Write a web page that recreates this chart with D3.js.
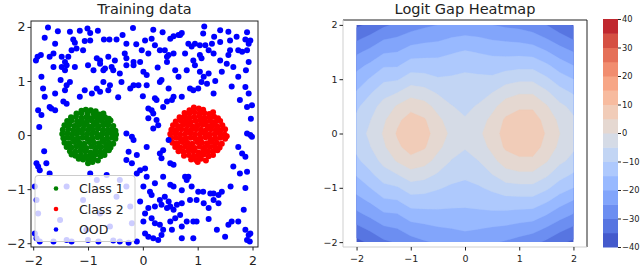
<!DOCTYPE html>
<html>
<head>
<script src="https://cdnjs.cloudflare.com/ajax/libs/d3/7.8.5/d3.min.js"></script>
<title>Training data / Logit Gap Heatmap</title>
<style>
    html, body { margin: 0; background: white; }
    .svg_canvas { display: block; font-family: "DejaVu Sans", sans-serif; }
</style>
</head>
<body>
<svg width="640" height="268" class="svg_canvas"></svg>
<script>

// ---- left panel data: training points ----
var class1 = [
    [-1.04,0.47],[-0.95,0.46],[-0.86,0.44],[-1.12,0.45],
    [-1.21,0.4],[-1.12,0.41],[-1.01,0.39],[-0.9,0.4],[-0.79,0.38],[-0.72,0.4],
    [-1.31,0.33],[-1.22,0.34],[-1.12,0.32],[-1.03,0.33],[-0.95,0.31],[-0.86,0.34],[-0.77,0.32],[-0.69,0.33],[-0.62,0.3],
    [-1.38,0.26],[-1.3,0.27],[-1.2,0.25],[-1.11,0.26],[-1.02,0.24],[-0.93,0.27],[-0.84,0.25],[-0.75,0.26],[-0.66,0.24],[-0.59,0.27],
    [-1.43,0.18],[-1.34,0.19],[-1.25,0.17],[-1.16,0.19],[-1.07,0.18],[-0.98,0.16],[-0.9,0.19],[-0.81,0.17],[-0.72,0.18],[-0.63,0.19],[-0.54,0.17],
    [-1.46,0.1],[-1.36,0.11],[-1.27,0.09],[-1.18,0.1],[-1.09,0.11],[-1.0,0.09],[-0.91,0.1],[-0.82,0.12],[-0.73,0.09],[-0.64,0.1],[-0.56,0.11],[-0.5,0.08],
    [-1.47,0.02],[-1.38,0.03],[-1.29,0.01],[-1.2,0.02],[-1.11,0.04],[-1.02,0.01],[-0.93,0.02],[-0.84,0.03],[-0.75,0.01],[-0.66,0.02],[-0.57,0.03],[-0.49,0.01],
    [-1.45,-0.06],[-1.37,-0.05],[-1.28,-0.07],[-1.19,-0.06],[-1.1,-0.05],[-1.01,-0.07],[-0.92,-0.06],[-0.83,-0.04],[-0.74,-0.07],[-0.65,-0.06],[-0.56,-0.05],[-0.5,-0.07],
    [-1.43,-0.14],[-1.34,-0.15],[-1.25,-0.13],[-1.16,-0.14],[-1.07,-0.16],[-0.98,-0.13],[-0.89,-0.14],[-0.8,-0.15],[-0.71,-0.13],[-0.62,-0.14],[-0.54,-0.16],
    [-1.39,-0.22],[-1.3,-0.23],[-1.21,-0.21],[-1.12,-0.22],[-1.03,-0.24],[-0.94,-0.21],[-0.85,-0.23],[-0.76,-0.22],[-0.67,-0.21],[-0.59,-0.23],
    [-1.33,-0.3],[-1.23,-0.31],[-1.14,-0.29],[-1.05,-0.3],[-0.96,-0.32],[-0.87,-0.29],[-0.78,-0.31],[-0.69,-0.3],[-0.62,-0.28],
    [-1.23,-0.38],[-1.13,-0.37],[-1.04,-0.39],[-0.95,-0.38],[-0.86,-0.36],[-0.77,-0.39],[-0.7,-0.37],[-1.3,-0.36],
    [-1.09,-0.45],[-0.99,-0.46],[-0.9,-0.44],[-0.82,-0.47],[-1.0,-0.52],[-0.92,-0.5],[-1.17,-0.44]
];

var class2 = [
    [0.93,0.51],[1.02,0.49],[1.1,0.47],[0.85,0.46],
    [0.76,0.41],[0.85,0.4],[0.94,0.42],[1.03,0.4],[1.12,0.41],[1.21,0.39],[1.28,0.42],
    [0.67,0.33],[0.76,0.34],[0.85,0.32],[0.94,0.33],[1.03,0.35],[1.12,0.32],[1.21,0.33],[1.3,0.34],[1.37,0.31],
    [0.6,0.25],[0.69,0.27],[0.78,0.26],[0.87,0.24],[0.96,0.26],[1.05,0.27],[1.14,0.25],[1.23,0.26],[1.32,0.24],[1.41,0.26],
    [0.55,0.18],[0.64,0.17],[0.73,0.19],[0.82,0.18],[0.91,0.16],[1.0,0.18],[1.09,0.19],[1.18,0.17],[1.27,0.18],[1.36,0.16],[1.45,0.18],
    [0.52,0.1],[0.61,0.09],[0.7,0.11],[0.79,0.1],[0.88,0.09],[0.97,0.11],[1.06,0.1],[1.15,0.09],[1.24,0.11],[1.33,0.1],[1.42,0.09],[1.5,0.11],
    [0.5,0.02],[0.59,0.03],[0.68,0.01],[0.77,0.02],[0.86,0.04],[0.95,0.01],[1.04,0.02],[1.13,0.03],[1.22,0.01],[1.31,0.02],[1.4,0.03],[1.49,0.01],[1.53,-0.02],
    [0.51,-0.06],[0.6,-0.05],[0.69,-0.07],[0.78,-0.06],[0.87,-0.05],[0.96,-0.07],[1.05,-0.06],[1.14,-0.04],[1.23,-0.07],[1.32,-0.06],[1.41,-0.05],[1.5,-0.07],
    [0.54,-0.14],[0.63,-0.15],[0.72,-0.13],[0.81,-0.14],[0.9,-0.16],[0.99,-0.13],[1.08,-0.14],[1.17,-0.15],[1.26,-0.13],[1.35,-0.14],[1.44,-0.16],
    [0.59,-0.22],[0.68,-0.23],[0.77,-0.21],[0.86,-0.22],[0.95,-0.24],[1.04,-0.21],[1.13,-0.23],[1.22,-0.22],[1.31,-0.21],[1.4,-0.23],
    [0.65,-0.3],[0.74,-0.31],[0.83,-0.29],[0.92,-0.3],[1.01,-0.32],[1.1,-0.29],[1.19,-0.31],[1.28,-0.3],[1.36,-0.28],
    [0.75,-0.38],[0.84,-0.37],[0.93,-0.39],[1.02,-0.38],[1.11,-0.36],[1.2,-0.39],[1.28,-0.37],
    [0.88,-0.45],[0.97,-0.46],[1.06,-0.44],[1.15,-0.47],[1.0,-0.5]
];

var ood = [
    [-1.73,1.99],[-1.33,1.91],[-1.15,1.93],[-1.01,1.97],[-0.82,1.93],[-0.96,1.89],[0.19,1.95],[0.71,1.89],[0.65,1.85],
    [1.1,1.88],[1.12,2.01],[1.41,1.94],[1.56,1.91],[1.9,1.9],
    [-1.79,1.8],[-1.6,1.69],[-1.27,1.77],[-1.24,1.71],[-1.06,1.74],[-0.96,1.75],[-0.71,1.77],[-0.61,1.77],[-0.48,1.77],
    [-0.37,1.85],[-0.3,1.69],[0.04,1.75],[0.16,1.78],[0.22,1.66],[0.5,1.78],[0.56,1.83],[0.68,1.85],[0.83,1.69],
    [0.89,1.64],[0.95,1.69],[1.04,1.66],[1.14,1.66],[1.26,1.69],[1.41,1.72],[1.59,1.75],[1.71,1.82],[1.87,1.77],[1.93,1.69],[1.96,1.75],
    [-1.95,1.38],[-1.92,1.45],[-1.86,1.48],[-1.7,1.45],[-1.63,1.51],[-1.48,1.45],[-1.42,1.35],[-1.36,1.45],[-1.21,1.6],
    [-1.09,1.57],[-1.3,1.57],[-0.84,1.42],[-0.78,1.38],[-0.63,1.45],[-0.51,1.38],[-0.33,1.51],[-0.3,1.42],[-0.17,1.35],
    [-0.02,1.57],[0.1,1.51],[0.31,1.57],[0.4,1.57],[0.44,1.45],[0.47,1.48],[0.56,1.51],[0.77,1.51],[0.92,1.38],
    [1.04,1.48],[1.07,1.42],[1.2,1.57],[1.29,1.51],[1.41,1.38],[1.56,1.48],[1.59,1.57],[1.74,1.57],[1.81,1.54],[1.9,1.57],[1.93,1.35],
    [-1.85,1.08],[-1.63,1.26],[-1.48,1.26],[-1.42,1.2],[-1.39,1.29],[-1.24,1.26],[-1.0,1.29],[-0.9,1.2],[-0.78,1.32],
    [-0.72,1.2],[-0.69,1.23],[-0.57,1.26],[-0.54,1.2],[-0.42,1.14],[-0.3,1.29],[-0.17,1.29],[0.01,1.17],[0.07,1.11],
    [0.34,1.02],[0.44,1.35],[0.59,1.2],[0.65,1.08],[0.8,1.2],[0.95,1.29],[1.04,1.17],[1.11,1.08],[1.2,1.14],[1.44,1.17],
    [1.53,1.32],[1.65,1.26],[1.74,1.08],
    [-1.82,0.86],[-1.79,0.71],[-1.6,0.77],[-1.42,0.83],[-1.39,0.92],[-1.33,0.98],[-1.15,0.71],[-1.06,0.83],[-0.93,0.77],
    [-0.84,0.86],[-0.78,0.8],[-0.72,0.98],[-0.63,0.83],[-0.6,0.92],[-0.39,0.98],[-0.23,0.86],[-0.17,0.92],[-0.08,0.92],
    [0.07,0.92],[0.22,0.68],[0.31,0.98],[0.47,0.86],[0.56,0.71],[0.71,0.71],[0.86,0.86],[0.92,0.83],[1.01,0.86],
    [1.07,0.98],[1.17,0.95],[1.29,0.77],[1.87,0.89],[1.93,0.77],
    [-1.91,0.46],[-1.85,0.37],[-1.7,0.52],[-1.67,0.49],[-1.6,0.46],[-1.45,0.62],[-1.39,0.58],[0.1,0.49],[0.16,0.46],
    [0.19,0.4],[0.25,0.65],[0.37,0.52],[0.44,0.62],[0.53,0.65],[1.77,0.65],[1.9,0.52],[1.99,0.55],
    [-1.89,0.15],[-0.3,0.03],[-0.2,-0.03],[-0.26,-0.31],[-0.17,-0.09],[-0.11,-0.37],[0.1,0.31],[0.19,0.12],[0.25,0.28],
    [0.28,0.18],[0.37,-0.28],[0.47,-0.09],[0.5,-0.52],[1.74,-0.22],[1.81,-0.34],[1.9,0.03],[1.96,0.0],[1.99,-0.03],
    [1.87,-0.4],[0.07,-0.22],
    [-1.94,-0.52],[-1.91,-0.58],[-1.88,-0.65],[-1.76,-0.52],[-1.7,-0.71],[-0.3,-0.46],[-0.2,-0.52],[-0.11,-0.71],
    [-0.05,-0.65],[0.04,-0.62],[0.07,-0.77],[0.31,-0.34],[0.34,-0.43],[0.37,-0.77],[0.56,-0.55],[0.77,-0.77],
    [0.83,-0.77],[1.65,-0.58],[1.77,-0.71],[1.9,-0.68],
    [-0.96,-0.71],[-0.84,-0.83],[-0.66,-0.74],[0.01,-0.95],[0.13,-1.05],[0.16,-1.11],[0.22,-0.89],[0.31,-1.2],
    [0.4,-1.14],[0.5,-0.92],[0.56,-0.95],[0.71,-1.02],[0.8,-0.83],[0.89,-0.95],[1.01,-1.05],[1.1,-1.05],[1.23,-1.08],
    [1.29,-1.08],[1.38,-1.11],[1.44,-1.05],[1.87,-0.98],
    [-0.05,-1.23],[0.04,-1.45],[0.1,-1.35],[0.22,-1.32],[0.34,-1.29],[0.44,-1.35],[0.47,-1.23],[0.5,-1.32],[0.56,-1.38],
    [0.62,-1.29],[0.71,-1.26],[0.86,-1.2],[0.98,-1.2],[1.11,-1.26],[1.2,-1.35],[1.29,-1.2],[1.38,-1.26],[1.84,-1.38],
    [0.01,-1.6],[0.16,-1.54],[0.22,-1.63],[0.31,-1.66],[0.37,-1.75],[0.5,-1.6],[0.59,-1.54],[0.71,-1.69],[0.8,-1.6],
    [0.92,-1.6],[0.98,-1.6],[1.35,-1.75],[1.56,-1.66],[1.62,-1.6],[1.74,-1.6],[1.87,-1.75],[1.96,-1.82],
    [-0.11,-1.97],[0.04,-1.82],[0.1,-1.88],[0.19,-1.91],[0.28,-1.94],[0.34,-1.85],[0.53,-1.75],[0.71,-1.91],
    [0.92,-1.91],[1.9,-1.94],[1.93,-1.85],[1.95,-1.97],
    [-1.97,-1.82],[-1.94,-1.91],[-1.88,-1.97],[-1.63,-1.97],[-1.39,-1.94],[-1.3,-1.97],[-1.0,-1.94],[-0.81,-1.97],
    [-0.54,-1.95],[-0.42,-1.97],[-0.26,-1.99],[-1.97,-0.95],[-1.94,-1.2],[-1.91,-1.45],[-1.39,-0.95],[-1.09,-1.2],
    [-0.78,-1.45],[-0.48,-1.14],[-0.6,-1.69],[-1.51,-1.57],[-1.03,-1.75],[-0.3,-0.95],[-0.23,-1.32],[-0.2,-1.63],[-0.42,-0.83],
    [-1.55,1.92],[-0.18,1.98],[0.36,1.9],[-0.12,1.68],[1.3,1.82],[-1.5,1.02],[-0.05,1.35],[0.27,1.25],[1.32,1.0],
    [1.62,0.9],[-0.45,0.7],[0.0,0.72],[1.88,1.2],[1.97,0.3],[1.6,-0.95],[1.2,-1.55],[0.68,-1.48],[1.5,-1.88],[-1.8,-0.3]
];

var legendLabels = ["Class 1", "Class 2", "OOD"];
var legendColors = ["green", "red", "blue"];
var scatterTicks = [-2, -1, 0, 1, 2];

// ---- right panel data: logit gap on a grid (rows from y=2 down to y=-2) ----
var gridX = [-2, -1.75, -1.5, -1.25, -1, -0.75, -0.5, -0.25, 0, 0.25, 0.5, 0.75, 1, 1.25, 1.5, 1.75, 2];
var gridY = [2, 1.75, 1.5, 1.25, 1, 0.75, 0.5, 0.25, 0, -0.25, -0.5, -0.75, -1, -1.25, -1.5, -1.75, -2];
var gapRows = [
    [-36, -34, -31, -29, -27.5, -26, -25, -24, -23.5, -24, -25, -26, -26.5, -28, -30, -33, -35.5],
    [-31, -28.5, -25.5, -24.5, -22.5, -21.5, -21, -19.7, -19, -19.5, -20.5, -21, -21.5, -22.5, -25, -28, -30.5],
    [-26, -23.5, -20.5, -20, -17.5, -17, -16.5, -15.5, -14.5, -15.3, -16, -16.5, -16.5, -17, -19.5, -22.5, -25],
    [-21.5, -19, -15.5, -15.5, -12.5, -12.5, -13, -12, -11, -11.8, -12.5, -12, -11.5, -11.5, -14, -17.5, -20],
    [-18, -14.5, -11, -10.5, -7.5, -8, -9.5, -9.3, -9, -9, -9, -7, -6, -6, -9, -12.5, -15],
    [-14.5, -10.5, -6.5, -5, -2, -3, -5.5, -7, -7.6, -6.8, -5, -2, -0.5, -0.5, -4, -8, -10.5],
    [-11, -7, -3.2, 0.5, 3.5, 2, -1.8, -4.8, -6.2, -4.5, -1.5, 2.5, 4.2, 4.2, 0.5, -3.8, -6.5],
    [-8.8, -5.2, -0.8, 4, 7, 5.5, 1.2, -2.5, -4.6, -2.4, 1.3, 5.8, 7.3, 7.3, 3.3, -1.2, -4.2],
    [-7.5, -4, 0.5, 5.5, 8.5, 7, 2.5, -1, -3, -1, 2.5, 7, 8.5, 8.5, 4.5, 0, -3],
    [-8.8, -5.2, -0.8, 4, 7, 5.5, 1.2, -2.6, -4.6, -2.5, 1.3, 5.8, 7.3, 7.3, 3.3, -1.2, -4.2],
    [-11, -7.5, -3.5, 0.5, 3.5, 2, -1.8, -5.2, -6.8, -5, -1.5, 2.5, 4, 4, 0.5, -3.8, -6.5],
    [-14.5, -11, -7, -5, -2, -3, -5.5, -8, -9, -7.8, -5, -2, -1, -1, -4, -8, -10.5],
    [-18, -15, -11.5, -10.5, -7.5, -8, -9.5, -10.8, -11.4, -10.5, -9, -7, -6.5, -6.5, -9, -12.5, -15],
    [-22, -19.5, -16, -15.5, -12.5, -12.5, -13, -13.5, -13.8, -13.2, -12.5, -12, -12, -12, -14.5, -18, -20.5],
    [-26.5, -24, -21, -20.5, -17.5, -17, -16.5, -16.5, -16.4, -16.3, -16.2, -16.5, -17, -17.5, -20, -23, -25.5],
    [-31.5, -29, -26, -25, -22.5, -21.5, -20.5, -20, -19.4, -19.8, -20.5, -21, -22, -23, -25.5, -28.5, -31],
    [-36.5, -34, -31, -29.5, -27, -25.5, -24.5, -23.5, -22.5, -23.5, -24.5, -25.5, -27, -28.5, -31, -34, -36]
];
var gapLevels = [-40, -35, -30, -25, -20, -15, -10, -5, 0, 5, 10, 15, 20, 25, 30, 35, 40];
var colorbarTicks = [-40, -30, -20, -10, 0, 10, 20, 30, 40];

// matplotlib "coolwarm" control colours
var coolwarm = [
    "#3b4cc0","#445acc","#4d68d7","#5775e1","#6282ea","#6c8ef1","#779af7","#82a5fb",
    "#8db0fe","#98b9ff","#a3c2ff","#aec9fd","#b8d0f9","#c2d5f4","#ccd9ee","#d5dbe6",
    "#dddddd","#e5d8d1","#ecd3c5","#f1ccb8","#f5c4ac","#f7bb9f","#f7b193","#f7a686",
    "#f49a7b","#f18d6f","#ec7f63","#e57058","#de604d","#d55043","#cb3e38","#c0282f","#b40426"
];

var svg = d3.select(".svg_canvas");

function fmt(v) { return v < 0 ? "\u2212" + Math.abs(v) : String(v); }

var cmap = d3.scaleLinear()
    .domain(coolwarm.map(function(c, i) { return i / (coolwarm.length - 1); }))
    .range(coolwarm)
    .interpolate(d3.interpolateRgb);
var norm = d3.scaleLinear().domain([gapLevels[0], gapLevels[gapLevels.length - 1]]).range([0, 1]);
function bandColor(lo, hi) { return cmap(norm((lo + hi) / 2)); }

// ================= left: training data =================
var x1 = d3.scaleLinear().domain([-2.04, 2.1]).range([31, 258]);
var y1 = d3.scaleLinear().domain([-2.07, 2.11]).range([247, 21]);

svg.append("clipPath").attr("id", "clipL")
    .append("rect")
    .attr("x", x1.range()[0]).attr("y", y1.range()[1])
    .attr("width", x1.range()[1] - x1.range()[0])
    .attr("height", y1.range()[0] - y1.range()[1]);

var left = svg.append("g");
var dots = left.append("g").attr("clip-path", "url(#clipL)");

[class1, class2, ood].forEach(function(set, k) {
    dots.append("g").selectAll("circle")
        .data(set)
        .enter()
        .append("circle")
        .attr("cx", function(d) { return x1(d[0]); })
        .attr("cy", function(d) { return y1(d[1]); })
        .attr("r", 3)
        .style("fill", legendColors[k]);
});

left.append("rect")
    .attr("x", x1.range()[0]).attr("y", y1.range()[1])
    .attr("width", x1.range()[1] - x1.range()[0])
    .attr("height", y1.range()[0] - y1.range()[1])
    .style("fill", "none").style("stroke", "#222").style("stroke-width", 1);

var lx = left.append("g")
    .attr("transform", "translate(0," + y1.range()[0] + ")")
    .call(d3.axisBottom(x1).tickValues(scatterTicks).tickSize(3.5).tickPadding(6).tickFormat(fmt));
var ly = left.append("g")
    .attr("transform", "translate(" + x1.range()[0] + ",0)")
    .call(d3.axisLeft(y1).tickValues(scatterTicks).tickSize(3.5).tickPadding(2).tickFormat(fmt));
[lx, ly].forEach(function(a) {
    a.select(".domain").remove();
    a.attr("font-family", null).attr("font-size", 12.5);
    a.selectAll("line").style("stroke", "#222");
    a.selectAll("text").style("fill", "#222");
});

left.append("text")
    .attr("x", (x1.range()[0] + x1.range()[1]) / 2).attr("y", 14)
    .attr("text-anchor", "middle").attr("font-size", 14.5).style("fill", "#222")
    .text("Training data");

// legend
var leg = left.append("g").attr("transform", "translate(35,175.5)");
leg.append("rect")
    .attr("width", 100).attr("height", 66).attr("rx", 3)
    .style("fill", "white").style("fill-opacity", 0.8)
    .style("stroke", "#cccccc").style("stroke-width", 1);
var items = leg.selectAll(".item")
    .data(legendLabels)
    .enter()
    .append("g")
    .attr("transform", function(d, i) { return "translate(0," + (13 + i * 20.5) + ")"; });
items.append("circle").attr("cx", 21).attr("cy", 0).attr("r", 2.3)
    .style("fill", function(d, i) { return legendColors[i]; });
items.append("text").attr("x", 44).attr("y", 4.5)
    .attr("font-size", 12.5).style("fill", "#222")
    .text(function(d) { return d; });

// ================= right: logit gap heatmap =================
var x2 = d3.scaleLinear().domain([-2.25, 2.25]).range([343, 587]);
var y2 = d3.scaleLinear().domain([-2.09, 2.09]).range([247, 20]);

svg.append("clipPath").attr("id", "clipR")
    .append("rect")
    .attr("x", x2(gridX[0])).attr("y", y2(gridY[0]))
    .attr("width", x2(gridX[gridX.length - 1]) - x2(gridX[0]))
    .attr("height", y2(gridY[gridY.length - 1]) - y2(gridY[0]));

var nx = gridX.length, ny = gridY.length;
var values = [].concat.apply([], gapRows);
var stepX = gridX[1] - gridX[0], stepY = gridY[1] - gridY[0];
var proj = d3.geoTransform({
    point: function(gx, gy) {
        this.stream.point(x2(gridX[0] + (gx - 0.5) * stepX), y2(gridY[0] + (gy - 0.5) * stepY));
    }
});
var gpath = d3.geoPath(proj);
var bands = d3.contours().size([nx, ny]).thresholds(gapLevels.slice(0, -1))(values);

var right = svg.append("g");
right.append("g").attr("clip-path", "url(#clipR)")
    .selectAll("path")
    .data(bands)
    .enter()
    .append("path")
    .attr("d", gpath)
    .style("fill", function(d) { return bandColor(d.value, d.value + 5); })
    .style("stroke", function(d) { return bandColor(d.value, d.value + 5); })
    .style("stroke-width", 0.3);

// spines: top/right dark, left/bottom light
right.append("line").attr("x1", x2.range()[0]).attr("x2", x2.range()[1]).attr("y1", y2.range()[1]).attr("y2", y2.range()[1])
    .style("stroke", "#222");
right.append("line").attr("x1", x2.range()[1]).attr("x2", x2.range()[1]).attr("y1", y2.range()[1]).attr("y2", y2.range()[0])
    .style("stroke", "#222");
right.append("line").attr("x1", x2.range()[0]).attr("x2", x2.range()[1]).attr("y1", y2.range()[0]).attr("y2", y2.range()[0])
    .style("stroke", "#cfcfcf");
right.append("line").attr("x1", x2.range()[0]).attr("x2", x2.range()[0]).attr("y1", y2.range()[1]).attr("y2", y2.range()[0])
    .style("stroke", "#cfcfcf");

var rx = right.append("g")
    .attr("transform", "translate(0," + y2.range()[0] + ")")
    .call(d3.axisBottom(x2).tickValues(scatterTicks).tickSize(3.5).tickPadding(4.5).tickFormat(fmt));
var ry = right.append("g")
    .attr("transform", "translate(" + x2.range()[0] + ",0)")
    .call(d3.axisLeft(y2).tickValues(scatterTicks).tickSize(3.5).tickPadding(2).tickFormat(fmt));
[rx, ry].forEach(function(a) {
    a.select(".domain").remove();
    a.attr("font-family", null).attr("font-size", 9.5);
    a.selectAll("line").style("stroke", "#222");
    a.selectAll("text").style("fill", "#222");
});

right.append("text")
    .attr("x", 465).attr("y", 14)
    .attr("text-anchor", "middle").attr("font-size", 14.5).style("fill", "#222")
    .text("Logit Gap Heatmap");

// colorbar
var cb = d3.scaleLinear().domain([gapLevels[0], gapLevels[gapLevels.length - 1]]).range([247, 19]);
var cbg = svg.append("g");
cbg.selectAll("rect")
    .data(gapLevels.slice(0, -1))
    .enter()
    .append("rect")
    .attr("x", 603).attr("width", 15)
    .attr("y", function(d) { return cb(d + 5); })
    .attr("height", function(d) { return cb(d) - cb(d + 5) + 0.5; })
    .style("fill", function(d) { return bandColor(d, d + 5); });
var cax = cbg.append("g")
    .attr("transform", "translate(618,0)")
    .call(d3.axisRight(cb).tickValues(colorbarTicks).tickSize(3).tickPadding(1).tickFormat(fmt));
cax.select(".domain").remove();
cax.attr("font-family", null).attr("font-size", 8.3);
cax.selectAll("line").style("stroke", "#222");
cax.selectAll("text").style("fill", "#222");

</script>
</body>
</html>
